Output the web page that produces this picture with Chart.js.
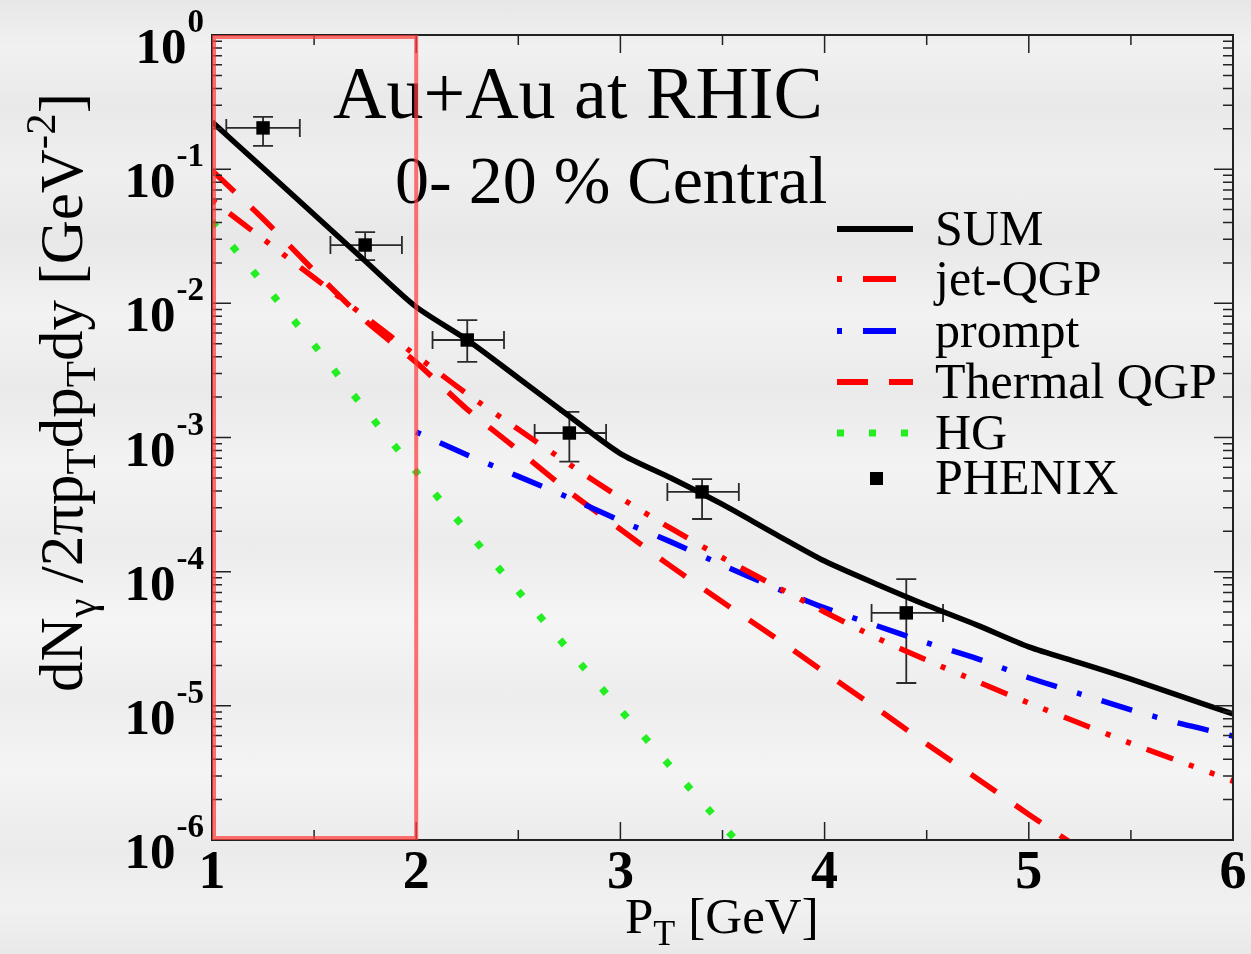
<!DOCTYPE html>
<html>
<head>
<meta charset="utf-8">
<script src="https://cdn.jsdelivr.net/npm/chart.js@4/dist/chart.umd.min.js"></script>
<style>
  html, body { margin: 0; padding: 0; width: 1251px; height: 954px; overflow: hidden; }
  body {
    background:
      linear-gradient(180deg,
        #e7e7e7 0%, #f1f1f1 5%, #e9e9e9 11%, #efefef 18%, #e8e8e8 25%,
        #f2f2f2 33%, #eaeaea 41%, #f3f3f3 49%, #ececec 57%, #f5f5f5 65%,
        #ededed 73%, #f4f4f4 81%, #ebebeb 89%, #f1f1f1 95%, #e9e9e9 100%);
  }
  #wrap { position: absolute; left: 0; top: 0; width: 1251px; height: 954px; }
</style>
</head>
<body>
<div id="wrap"><canvas id="chart" width="1251" height="954"></canvas></div>
<script>
// Photon transverse-momentum grid [GeV]
const ptGrid = [1.0, 1.25, 1.5, 1.75, 2.0, 2.25, 2.5, 2.75, 3.0, 3.25, 3.5,
                3.75, 4.0, 4.25, 4.5, 4.75, 5.0, 5.25, 5.5, 5.75, 6.0];

// dN/(2π pT dpT dy) [GeV^-2] for each source
const sumCurve   = [0.225, 0.102, 0.0459, 0.0207, 0.0094, 0.00533, 0.00278, 0.00144,
                    7.59e-4, 4.97e-4, 3.17e-4, 1.94e-4, 1.20e-4, 8.13e-5, 5.62e-5,
                    3.98e-5, 2.75e-5, 2.09e-5, 1.58e-5, 1.17e-5, 8.7e-6];
const jetQGP     = [0.0589, 0.0302, 0.0155, 0.00794, 0.00407, 0.00211, 0.00115, 6.31e-4,
                    3.55e-4, 2.09e-4, 1.27e-4, 7.94e-5, 5.01e-5, 3.24e-5, 2.19e-5,
                    1.51e-5, 1.05e-5, 7.41e-6, 5.25e-6, 3.80e-6, 2.75e-6];
const promptPh   = [null, null, null, null, 1.10e-3, 7.41e-4, 5.13e-4, 3.55e-4,
                    2.40e-4, 1.66e-4, 1.12e-4, 7.67e-5, 5.37e-5, 3.98e-5, 2.95e-5,
                    2.24e-5, 1.62e-5, 1.23e-5, 9.33e-6, 7.33e-6, 5.96e-6];
const thermalQGP = [0.0977, 0.0427, 0.0175, 0.00745, 0.00363, 0.00162, 8.04e-4, 3.94e-4,
                    2.07e-4, 1.09e-4, 5.94e-5, 3.29e-5, 1.78e-5, 9.7e-6, 5.2e-6,
                    2.85e-6, 1.55e-6, 8.6e-7, null, null, null];
const hadronGas  = [0.0407, 0.0141, 0.0049, 0.00162, 5.55e-4, 2.0e-4, 7.16e-5, 2.57e-5,
                    9.33e-6, 3.47e-6, 1.29e-6, 4.9e-7, null, null, null,
                    null, null, null, null, null, null];

// PHENIX measurement with error bars
const phenixPt     = [1.25, 1.75, 2.25, 2.75, 3.4, 4.4];
const phenixYield  = [0.203, 0.0272, 0.00533, 0.00108, 3.93e-4, 4.93e-5];
const phenixYHigh  = [0.245, 0.034, 0.0075, 0.00155, 4.9e-4, 8.8e-5];
const phenixYLow   = [0.149, 0.021, 0.00366, 0.00066, 2.47e-4, 1.48e-5];
const phenixPtLow  = [1.07, 1.58, 2.08, 2.58, 3.23, 4.23];
const phenixPtHigh = [1.43, 1.93, 2.43, 2.93, 3.58, 4.58];

// Axis ticks
const xTickValues = [1, 2, 3, 4, 5, 6];
const xTickLabels = ['1', '2', '3', '4', '5', '6'];
const xMinorTicks = [1.5, 2.5, 3.5, 4.5, 5.5];
const yTickExponents = [0, -1, -2, -3, -4, -5, -6];
const yTickLabels = ['0', '-1', '-2', '-3', '-4', '-5', '-6'];

// Highlighted pT window
const windowPt = [1, 2];

// Legend entries
const legendLabels = ['SUM', 'jet-QGP', 'prompt', 'Thermal QGP', 'HG', 'PHENIX'];

const SERIF = '"Liberation Serif", "Times New Roman", serif';

function toPoints(ys) {
  return ptGrid.map((x, i) => ({ x: x, y: ys[i] }));
}

const plotDecor = {
  id: 'plotDecor',
  beforeDatasetsDraw(chart) {
    const { ctx, scales: { x, y } } = chart;
    // error bars below the markers
    ctx.save();
    ctx.strokeStyle = '#2a2a2a';
    ctx.lineWidth = 1.8;
    for (let i = 0; i < phenixPt.length; i++) {
      const px = x.getPixelForValue(phenixPt[i]);
      const py = y.getPixelForValue(phenixYield[i]);
      const xl = x.getPixelForValue(phenixPtLow[i]);
      const xh = x.getPixelForValue(phenixPtHigh[i]);
      const yh = y.getPixelForValue(phenixYHigh[i]);
      const yl = y.getPixelForValue(phenixYLow[i]);
      ctx.beginPath();
      ctx.moveTo(xl, py); ctx.lineTo(xh, py);
      ctx.moveTo(xl, py - 9); ctx.lineTo(xl, py + 9);
      ctx.moveTo(xh, py - 9); ctx.lineTo(xh, py + 9);
      ctx.moveTo(px, yh); ctx.lineTo(px, yl);
      ctx.moveTo(px - 10, yh); ctx.lineTo(px + 10, yh);
      ctx.moveTo(px - 10, yl); ctx.lineTo(px + 10, yl);
      ctx.stroke();
    }
    ctx.restore();
  },
  afterDraw(chart) {
    const { ctx, chartArea: ca, scales: { x, y } } = chart;
    ctx.save();

    // frame
    ctx.strokeStyle = '#222';
    ctx.lineWidth = 2;
    ctx.strokeRect(ca.left, ca.top, ca.right - ca.left, ca.bottom - ca.top);

    // inward ticks on all four sides
    ctx.lineWidth = 1.5;
    ctx.beginPath();
    xTickValues.forEach(v => {
      const px = x.getPixelForValue(v);
      ctx.moveTo(px, ca.bottom); ctx.lineTo(px, ca.bottom - 18);
      ctx.moveTo(px, ca.top); ctx.lineTo(px, ca.top + 18);
    });
    xMinorTicks.forEach(v => {
      const px = x.getPixelForValue(v);
      ctx.moveTo(px, ca.bottom); ctx.lineTo(px, ca.bottom - 10);
      ctx.moveTo(px, ca.top); ctx.lineTo(px, ca.top + 10);
    });
    yTickExponents.forEach(e => {
      const py = y.getPixelForValue(Math.pow(10, e));
      ctx.moveTo(ca.left, py); ctx.lineTo(ca.left + 19, py);
      ctx.moveTo(ca.right, py); ctx.lineTo(ca.right - 19, py);
      if (e > -6) {
        for (let k = 2; k <= 9; k++) {
          const pm = y.getPixelForValue(k * Math.pow(10, e - 1));
          ctx.moveTo(ca.left, pm); ctx.lineTo(ca.left + 10, pm);
          ctx.moveTo(ca.right, pm); ctx.lineTo(ca.right - 10, pm);
        }
      }
    });
    ctx.stroke();

    // tick labels
    ctx.fillStyle = '#000';
    ctx.textBaseline = 'alphabetic';
    xTickValues.forEach((v, i) => {
      ctx.font = 'bold 54px ' + SERIF;
      ctx.textAlign = 'center';
      ctx.fillText(xTickLabels[i], x.getPixelForValue(v), ca.bottom + 48);
    });
    yTickExponents.forEach((e, i) => {
      const py = y.getPixelForValue(Math.pow(10, e));
      const rightEdge = ca.left - 8;
      ctx.font = 'bold 33px ' + SERIF;
      const supW = ctx.measureText(yTickLabels[i]).width;
      ctx.textAlign = 'left';
      ctx.fillText(yTickLabels[i], rightEdge - supW, py - 3);
      ctx.font = 'bold 51px ' + SERIF;
      ctx.textAlign = 'right';
      ctx.fillText('10', rightEdge - supW - 1, py + 28);
    });

    // x-axis title: P_T [GeV]
    {
      let cx = 625, base = 933;
      ctx.textAlign = 'left';
      ctx.font = '51px ' + SERIF;
      ctx.fillText('P', cx, base); cx += ctx.measureText('P').width;
      ctx.font = '36px ' + SERIF;
      ctx.fillText('T', cx, base + 12); cx += ctx.measureText('T').width + 13;
      ctx.font = '51px ' + SERIF;
      ctx.fillText('[GeV]', cx, base);
    }

    // y-axis title: dN_γ /2πp_T dp_T dy [GeV^-2]
    {
      ctx.save();
      ctx.translate(82, 692);
      ctx.rotate(-Math.PI / 2);
      const big = '61px ' + SERIF, small = '43px ' + SERIF;
      const parts = [
        ['dN', big, 0], ['γ', small, 13], [' /2πp', big, 0], ['T', small, 13],
        ['dp', big, 0], ['T', small, 13], ['dy [GeV', big, 0], ['-2', small, -27], [']', big, 0]
      ];
      let cx = 0;
      ctx.textAlign = 'left';
      parts.forEach(([t, f, dy]) => {
        ctx.font = f;
        ctx.fillText(t, cx, dy);
        cx += ctx.measureText(t).width;
      });
      ctx.restore();
    }

    // annotation text
    ctx.textAlign = 'left';
    ctx.font = '74px ' + SERIF;
    ctx.fillText('Au+Au at RHIC', 333, 118);
    ctx.font = '68px ' + SERIF;
    ctx.fillText('0- 20 % Central', 395, 203);

    // legend
    const rowY = [229, 279, 331, 382, 433, 478];
    const sx0 = 837, sx1 = 913, tx = 935;
    ctx.lineCap = 'butt';
    ctx.lineWidth = 6;
    // SUM
    ctx.strokeStyle = '#000'; ctx.setLineDash([]);
    ctx.beginPath(); ctx.moveTo(sx0, rowY[0]); ctx.lineTo(sx1, rowY[0]); ctx.stroke();
    // jet-QGP
    ctx.strokeStyle = '#ff0000'; ctx.setLineDash([5, 21, 33, 200]);
    ctx.beginPath(); ctx.moveTo(sx0, rowY[1]); ctx.lineTo(sx1, rowY[1]); ctx.stroke();
    // prompt
    ctx.strokeStyle = '#0000ff'; ctx.setLineDash([5, 21, 33, 200]);
    ctx.beginPath(); ctx.moveTo(sx0, rowY[2]); ctx.lineTo(sx1, rowY[2]); ctx.stroke();
    // Thermal QGP
    ctx.strokeStyle = '#ff0000'; ctx.setLineDash([31, 21]);
    ctx.beginPath(); ctx.moveTo(sx0, rowY[3]); ctx.lineTo(sx1, rowY[3]); ctx.stroke();
    // HG
    ctx.strokeStyle = '#22ee22'; ctx.lineWidth = 7; ctx.setLineDash([7, 25]);
    ctx.beginPath(); ctx.moveTo(sx0, rowY[4]); ctx.lineTo(sx1, rowY[4]); ctx.stroke();
    ctx.setLineDash([]);
    // PHENIX marker
    ctx.fillStyle = '#000';
    ctx.fillRect(870, rowY[5] - 6, 13, 13);
    ctx.font = '50px ' + SERIF;
    legendLabels.forEach((t, i) => ctx.fillText(t, tx, rowY[i] + 16));

    // highlighted pT window
    const bx0 = x.getPixelForValue(windowPt[0]);
    const bx1 = x.getPixelForValue(windowPt[1]);
    ctx.strokeStyle = 'rgba(255, 60, 60, 0.72)';
    ctx.lineWidth = 4;
    ctx.strokeRect(bx0 + 2, ca.top + 2, bx1 - bx0 - 2, ca.bottom - ca.top - 4);

    ctx.restore();
  }
};

new Chart(document.getElementById('chart'), {
  type: 'line',
  data: {
    datasets: [
      { label: 'PHENIX', data: phenixPt.map((x, i) => ({ x: x, y: phenixYield[i] })),
        showLine: false, pointStyle: 'rect', pointRadius: 9.5, pointBorderWidth: 0,
        pointBackgroundColor: '#000', borderColor: '#000' },
      { label: 'SUM', data: toPoints(sumCurve), borderColor: '#000', borderWidth: 5.5,
        pointRadius: 0, tension: 0.25 },
      { label: 'jet-QGP', data: toPoints(jetQGP), borderColor: '#ff0000', borderWidth: 5.5,
        borderDash: [28, 17, 5, 17, 5, 17], borderDashOffset: 67, pointRadius: 0, tension: 0.25 },
      { label: 'prompt', data: toPoints(promptPh), borderColor: '#0000ff', borderWidth: 5.5,
        borderDash: [32, 21, 5, 21], borderDashOffset: 53, pointRadius: 0, tension: 0.25 },
      { label: 'Thermal QGP', data: toPoints(thermalQGP), borderColor: '#ff0000', borderWidth: 5.5,
        borderDash: [31, 23], pointRadius: 0, tension: 0.25 },
      { label: 'HG', data: toPoints(hadronGas), borderColor: '#22ee22', borderWidth: 7,
        borderDash: [7, 25], pointRadius: 0, tension: 0.25 }
    ]
  },
  options: {
    responsive: false,
    animation: false,
    devicePixelRatio: 1,
    layout: { padding: { left: 212, right: 18, top: 35, bottom: 114 } },
    plugins: { legend: { display: false }, tooltip: { enabled: false } },
    scales: {
      x: { type: 'linear', min: 1, max: 6, display: false },
      y: { type: 'logarithmic', min: 1e-6, max: 1, display: false }
    }
  },
  plugins: [plotDecor]
});
</script>
</body>
</html>
